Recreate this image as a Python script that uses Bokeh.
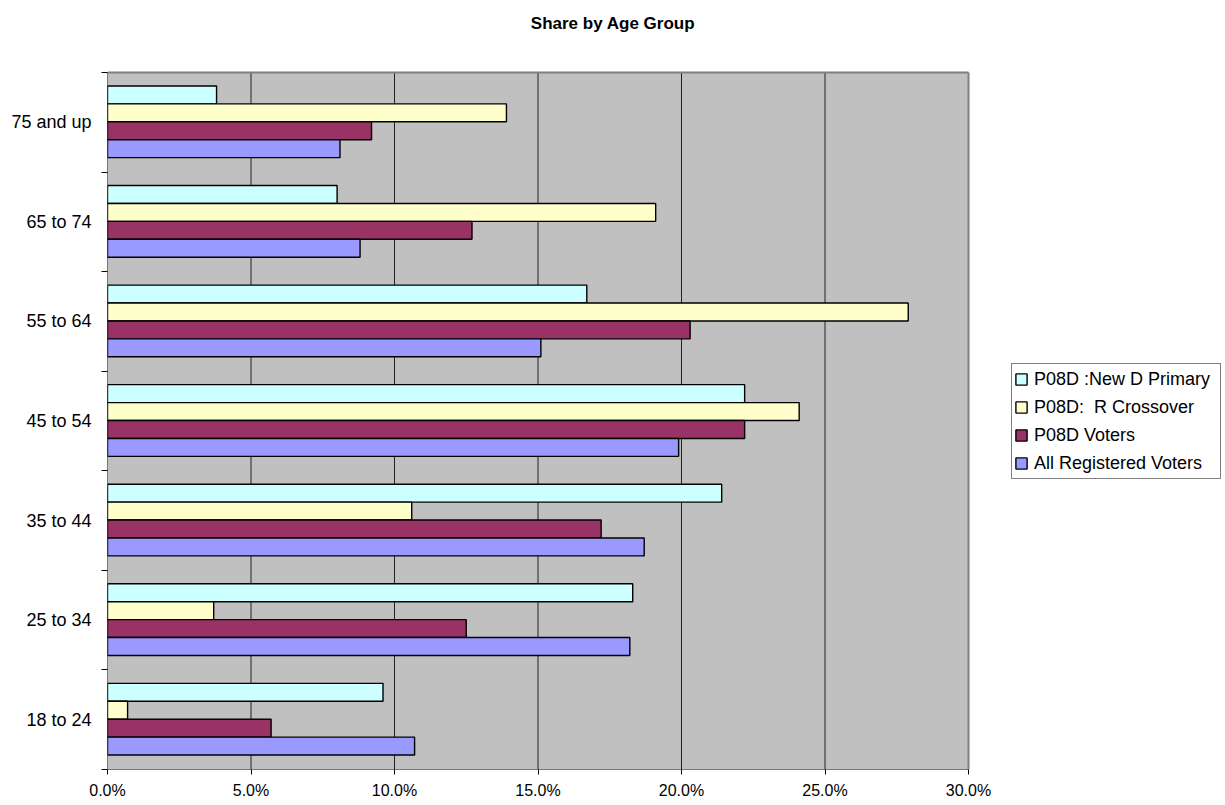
from bokeh.plotting import figure
from bokeh.models import (ColumnDataSource, Range1d, FixedTicker, PrintfTickFormatter,
                          Legend, LegendItem, Label)
from bokeh.transform import dodge
from bokeh.embed import file_html
from bokeh.resources import INLINE

# ---- data (percent) ----
age_groups = ["18 to 24", "25 to 34", "35 to 44", "45 to 54", "55 to 64", "65 to 74", "75 and up"]
new_d_primary = [9.6, 18.3, 21.4, 22.2, 16.7, 8.0, 3.8]
r_crossover = [0.7, 3.7, 10.6, 24.1, 27.9, 19.1, 13.9]
p08d_voters = [5.7, 12.5, 17.2, 22.2, 20.3, 12.7, 9.2]
all_registered = [10.7, 18.2, 18.7, 19.9, 15.1, 8.8, 8.1]
series_names = ["P08D :New D Primary", "P08D:  R Crossover", "P08D Voters", "All Registered Voters"]
x_ticks = [0, 5, 10, 15, 20, 25, 30]

FONT = "Liberation Sans"
colors = ["#CCFFFF", "#FFFFCC", "#993366", "#9999FF"]

# layout geometry (pixels)
W, H = 1225, 805
LEFT, BOTTOM = 107, 36
PLOT_RIGHT_PX, PLOT_TOP_PX = 968, 72
frame_w = W - LEFT
frame_h = H - BOTTOM
xmax = x_ticks[-1]
ncat = len(age_groups)
x_end = xmax * frame_w / (PLOT_RIGHT_PX - LEFT)
y_end = ncat * frame_h / (frame_h - PLOT_TOP_PX)

centers = [i + 0.5 for i in range(ncat)]
source = ColumnDataSource(dict(y=centers, a=new_d_primary, b=r_crossover,
                               c=p08d_voters, d=all_registered))

p = figure(width=W, height=H, output_backend="svg", toolbar_location=None,
           x_range=Range1d(0, x_end), y_range=Range1d(0, y_end),
           min_border_left=LEFT, min_border_right=0, min_border_top=0, min_border_bottom=BOTTOM)
p.background_fill_color = "white"
p.border_fill_color = "white"
p.outline_line_color = None
p.xgrid.grid_line_color = None
p.ygrid.grid_line_color = None

# plot area background
p.quad(left=[0], right=[xmax], bottom=[0], top=[ncat], fill_color="#C0C0C0", line_color=None)
# vertical gridlines
inner = x_ticks[1:-1]
p.segment(x0=inner, x1=inner, y0=[0] * len(inner), y1=[ncat] * len(inner),
          line_color="#222222", line_width=1)

offsets = [0.275, 0.095, -0.085, -0.265]
fields = ["a", "b", "c", "d"]
renderers = []
for f, off, col in zip(fields, offsets, colors):
    r = p.hbar(y=dodge("y", off), right=f, left=0, height=0.18, source=source,
               fill_color=col, line_color="black", line_width=1.4)
    renderers.append(r)

# plot area border: grey top/right, black left/bottom (axis lines)
p.segment(x0=[0, xmax], x1=[xmax, xmax], y0=[ncat, 0], y1=[ncat, ncat],
          line_color="#808080", line_width=2)
p.segment(x0=[0, 0], x1=[0, xmax], y0=[0, 0], y1=[ncat, 0],
          line_color="black", line_width=1)

# x axis
p.xaxis.ticker = FixedTicker(ticks=x_ticks, minor_ticks=[])
p.xaxis.formatter = PrintfTickFormatter(format="%.1f%%")
p.xaxis.major_label_text_font = FONT
p.xaxis.major_label_text_font_size = "16px"
p.xaxis.major_label_text_color = "black"
p.xaxis.major_tick_out = 5
p.xaxis.major_tick_in = 0
p.xaxis.major_tick_line_color = "black"
p.xaxis.axis_line_color = None
p.xaxis.major_label_standoff = 7

# y axis: labels at centers, ticks at boundaries
p.yaxis.ticker = FixedTicker(ticks=centers, minor_ticks=list(range(ncat + 1)))
p.yaxis.major_label_overrides = {c: g for c, g in zip(centers, age_groups)}
p.yaxis.major_label_text_font = FONT
p.yaxis.major_label_text_font_size = "18px"
p.yaxis.major_label_text_color = "black"
p.yaxis.major_tick_out = 0
p.yaxis.major_tick_in = 0
p.yaxis.minor_tick_out = 6
p.yaxis.minor_tick_in = 0
p.yaxis.minor_tick_line_color = "black"
p.yaxis.axis_line_color = None
p.yaxis.major_label_standoff = 10

legend = Legend(items=[LegendItem(label=n, renderers=[r]) for n, r in zip(series_names, renderers)],
                location=(1011 - LEFT, frame_h - 479), orientation="vertical",
                label_text_font=FONT, label_text_font_size="18px", label_text_color="black",
                glyph_width=14, glyph_height=14, label_height=26, spacing=2,
                padding=2, margin=0, label_standoff=6, label_width=184,
                border_line_color="black", border_line_width=1,
                background_fill_color="white", background_fill_alpha=1.0)
p.add_layout(legend, "center")

title = Label(x=W / 2 - LEFT, y=frame_h - 23, x_units="screen", y_units="screen",
              text="Share by Age Group", text_font=FONT, text_font_size="17px",
              text_font_style="bold", text_align="center", text_baseline="alphabetic",
              text_color="black")
p.add_layout(title)

open("out.html", "w").write(file_html(p, INLINE))
